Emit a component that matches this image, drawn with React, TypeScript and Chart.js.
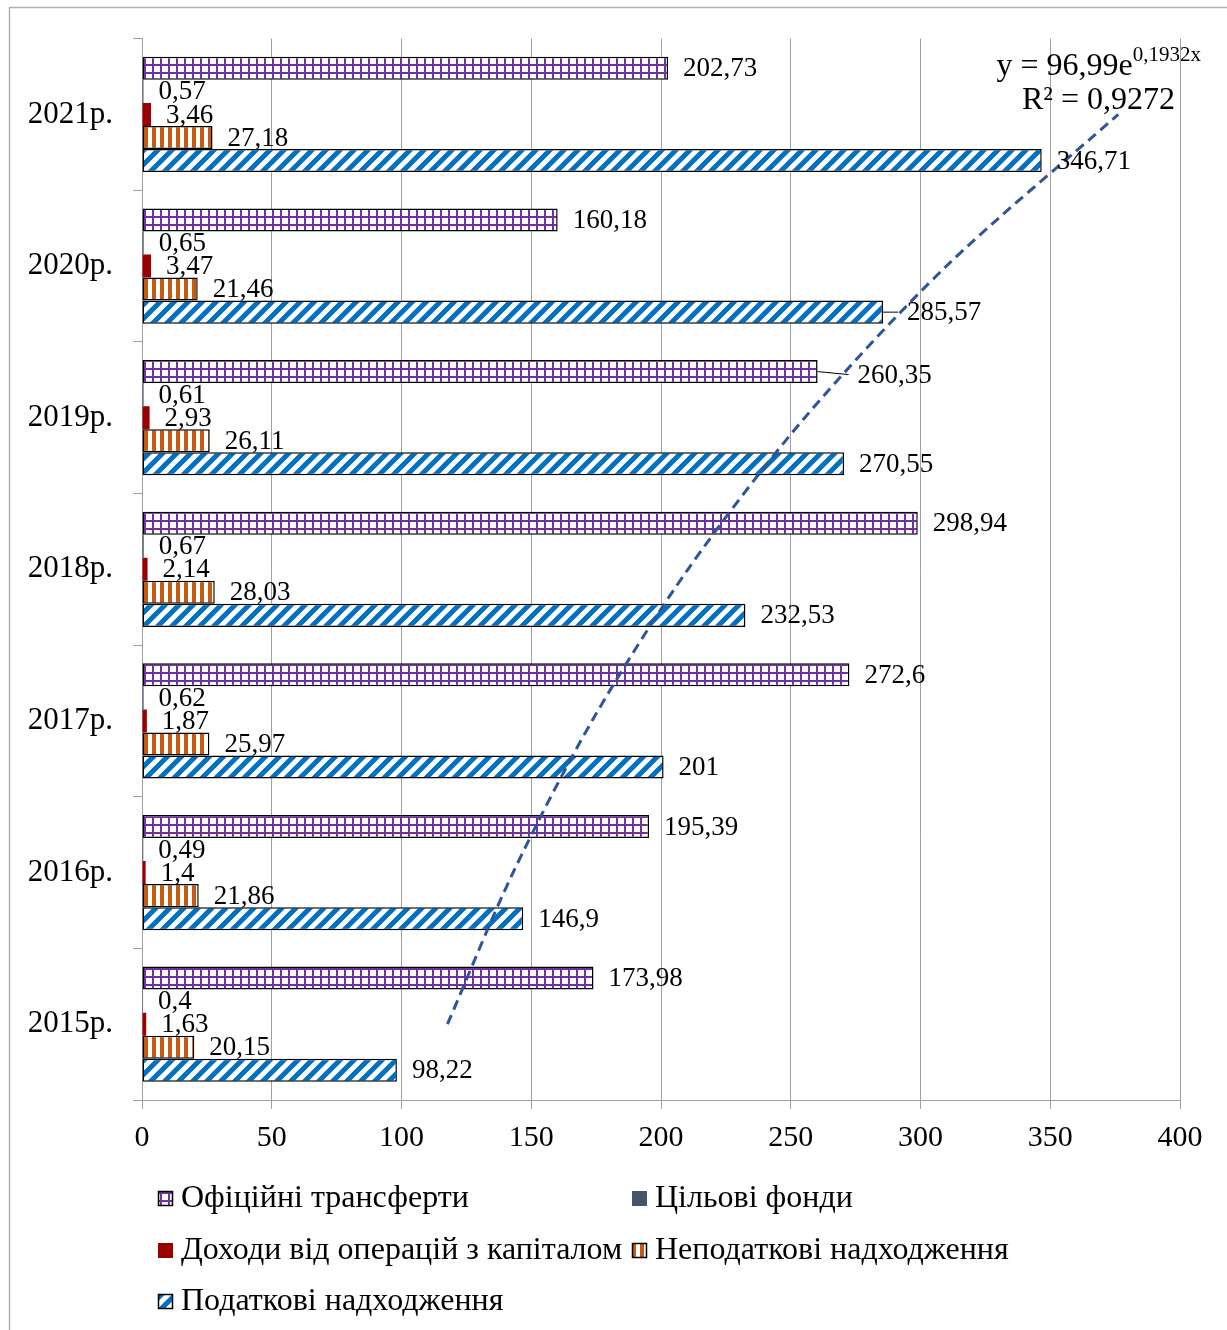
import React, { useEffect, useRef } from 'react';
import { Chart, registerables } from 'chart.js';

Chart.register(...registerables);

// ---------- data ----------
const categories = ['2015р.', '2016р.', '2017р.', '2018р.', '2019р.', '2020р.', '2021р.'];
const officialTransfers = [173.98, 195.39, 272.6, 298.94, 260.35, 160.18, 202.73];
const targetFunds = [0.4, 0.49, 0.62, 0.67, 0.61, 0.65, 0.57];
const capitalIncome = [1.63, 1.4, 1.87, 2.14, 2.93, 3.47, 3.46];
const nonTaxRevenue = [20.15, 21.86, 25.97, 28.03, 26.11, 21.46, 27.18];
const taxRevenue = [98.22, 146.9, 201, 232.53, 270.55, 285.57, 346.71];
// exponential trend of tax revenue
const trendValues = [117.7, 143.0, 173.4, 210.4, 255.4, 310.0, 376.2];
const seriesNames = [
  'Офіційні трансферти',
  'Цільові фонди',
  'Доходи від операцій з капіталом',
  'Неподаткові надходження',
  'Податкові надходження',
];
const xMin = 0;
const xMax = 400;
const xStep = 50;
const trendMain = 'y = 96,99e';
const trendExp = '0,1932x';
const trendR2 = 'R² = 0,9272';

const FONT = '"Liberation Serif", "Times New Roman", serif';
const PURPLE = '#7030a0';
const ORANGE = '#c55a11';
const BLUE = '#0070c0';
const DARKRED = '#990000';
const SLATE = '#44546a';
const GRID = '#a0a0a0';

function makeTile(size: number, draw: (c: CanvasRenderingContext2D) => void) {
  const cv = document.createElement('canvas');
  cv.width = size;
  cv.height = size;
  const c = cv.getContext('2d')!;
  c.fillStyle = '#ffffff';
  c.fillRect(0, 0, size, size);
  draw(c);
  return cv;
}

function makePatterns(ctx: CanvasRenderingContext2D) {
  const grid = makeTile(8, (c) => {
    c.fillStyle = PURPLE;
    c.fillRect(0, 0, 2, 8);
    c.fillRect(0, 0, 8, 2);
  });
  const vstripes = makeTile(8, (c) => {
    c.fillStyle = ORANGE;
    c.fillRect(0, 0, 4, 8);
  });
  const diag = makeTile(14, (c) => {
    c.strokeStyle = BLUE;
    c.lineWidth = 5;
    c.beginPath();
    for (let k = -1; k <= 1; k++) {
      c.moveTo(k * 14 - 2, 16);
      c.lineTo(k * 14 + 16, -2);
    }
    c.stroke();
  });
  return {
    grid: ctx.createPattern(grid, 'repeat')!,
    vstripes: ctx.createPattern(vstripes, 'repeat')!,
    diag: ctx.createPattern(diag, 'repeat')!,
  };
}

const fmt = (v: number) => String(v).replace('.', ',');

// label nudges with leader lines (seriesIndex:categoryIndex)
const labelNudges: Record<string, { dx: number; dy: number }> = {
  '4:5': { dx: 24, dy: 0 },
  '0:4': { dx: 40, dy: 3 },
};

export default function App() {
  const ref = useRef<HTMLCanvasElement | null>(null);

  useEffect(() => {
    document.body.style.margin = '0';
    document.body.style.overflow = 'hidden';
    const canvas = ref.current!;
    const ctx = canvas.getContext('2d')!;
    const pats = makePatterns(ctx);

    const fills = [pats.grid, SLATE, DARKRED, pats.vstripes, pats.diag];
    const bordered = [true, false, false, true, true];
    const seriesData = [officialTransfers, targetFunds, capitalIncome, nonTaxRevenue, taxRevenue];

    const barSets = seriesData.map((d, i) => ({
      type: 'bar' as const,
      label: seriesNames[i],
      seriesIndex: i,
      data: d,
      backgroundColor: fills[i],
      borderColor: '#000000',
      borderWidth: bordered[i] ? 1.5 : 0,
      borderSkipped: false,
      categoryPercentage: 0.76,
      barPercentage: 1,
      order: 0,
    }));

    const labelsPlugin = {
      id: 'valueLabels',
      afterDatasetsDraw(chart: any) {
        const c = chart.ctx as CanvasRenderingContext2D;
        c.save();
        c.font = `27px ${FONT}`;
        c.fillStyle = '#000';
        c.textAlign = 'left';
        c.textBaseline = 'middle';
        chart.data.datasets.forEach((ds: any, di: number) => {
          if (ds.type === 'line') return;
          const meta = chart.getDatasetMeta(di);
          meta.data.forEach((el: any, i: number) => {
            const v = ds.data[i];
            const n = labelNudges[`${ds.seriesIndex}:${i}`];
            let x = el.x + 15;
            let y = el.y + 1;
            if (n) {
              c.strokeStyle = '#000';
              c.lineWidth = 1;
              c.beginPath();
              c.moveTo(el.x, el.y);
              c.lineTo(el.x + n.dx - 9, el.y + n.dy);
              c.stroke();
              x = el.x + n.dx;
              y = el.y + n.dy + 1;
            }
            c.fillText(fmt(v), x, y);
          });
        });
        c.restore();
      },
    };

    const decorPlugin = {
      id: 'decor',
      afterDraw(chart: any) {
        const c = chart.ctx as CanvasRenderingContext2D;
        c.save();
        // outer frame (top and left edges visible)
        c.strokeStyle = '#b0b0b0';
        c.lineWidth = 1.5;
        c.beginPath();
        c.moveTo(9.5, 1330);
        c.lineTo(9.5, 7.5);
        c.lineTo(1227, 7.5);
        c.stroke();

        // trend equation
        c.fillStyle = '#000';
        c.textBaseline = 'alphabetic';
        c.textAlign = 'left';
        c.font = `32px ${FONT}`;
        const wMain = c.measureText(trendMain).width;
        c.font = `21px ${FONT}`;
        const wExp = c.measureText(trendExp).width;
        const x0 = 1201 - wMain - wExp;
        c.font = `32px ${FONT}`;
        c.fillText(trendMain, x0, 75);
        c.font = `21px ${FONT}`;
        c.fillText(trendExp, x0 + wMain, 61);
        c.font = `32px ${FONT}`;
        c.textAlign = 'right';
        c.fillText(trendR2, 1175, 109);

        // legend
        const cols = [158, 632];
        const rows = [1198, 1250, 1301];
        const legendFill = [pats.grid, SLATE, DARKRED, pats.vstripes, pats.diag];
        c.font = `32px ${FONT}`;
        c.textAlign = 'left';
        c.textBaseline = 'middle';
        seriesNames.forEach((name, i) => {
          const bx = cols[i % 2];
          const by = rows[Math.floor(i / 2)];
          c.fillStyle = legendFill[i] as any;
          c.fillRect(bx, by - 7, 15, 15);
          if (bordered[i]) {
            c.strokeStyle = '#000';
            c.lineWidth = 1.5;
            c.strokeRect(bx + 0.5, by - 6.5, 14, 14);
          }
          c.fillStyle = '#000';
          c.fillText(name, bx + 23, by + 1);
        });
        c.restore();
      },
    };

    const chart = new Chart(ctx, {
      type: 'bar',
      data: {
        labels: categories,
        datasets: [
          {
            type: 'line',
            label: 'trend',
            data: trendValues,
            indexAxis: 'y',
            borderColor: '#2f5597',
            borderWidth: 3,
            borderDash: [10, 6],
            pointRadius: 0,
            tension: 0.3,
            fill: false,
            order: -1,
          } as any,
          ...barSets,
        ],
      },
      options: {
        indexAxis: 'y',
        responsive: false,
        animation: false,
        devicePixelRatio: 1,
        layout: { padding: { top: 37, right: 47, left: 0, bottom: 0 } },
        plugins: {
          legend: { display: false },
          tooltip: { enabled: false },
        },
        scales: {
          x: {
            type: 'linear',
            min: xMin,
            max: xMax,
            ticks: {
              stepSize: xStep,
              font: { family: FONT, size: 30 },
              color: '#000',
              padding: 11,
            },
            grid: { color: GRID, lineWidth: 1, tickLength: 9 },
            border: { color: GRID },
            afterFit(s: any) {
              s.height = 230;
            },
          },
          y: {
            type: 'category',
            reverse: true,
            ticks: {
              font: { family: FONT, size: 31 },
              color: '#000',
              padding: 20,
            },
            grid: {
              display: true,
              drawOnChartArea: false,
              tickLength: 9,
              color: GRID,
              offset: true,
            },
            border: { color: GRID },
            afterFit(s: any) {
              s.width = 142;
            },
          },
        },
      } as any,
      plugins: [labelsPlugin, decorPlugin],
    });

    return () => chart.destroy();
  }, []);

  return (
    <canvas
      ref={ref}
      width={1227}
      height={1330}
      style={{ display: 'block', width: '1227px', height: '1330px' }}
    />
  );
}
